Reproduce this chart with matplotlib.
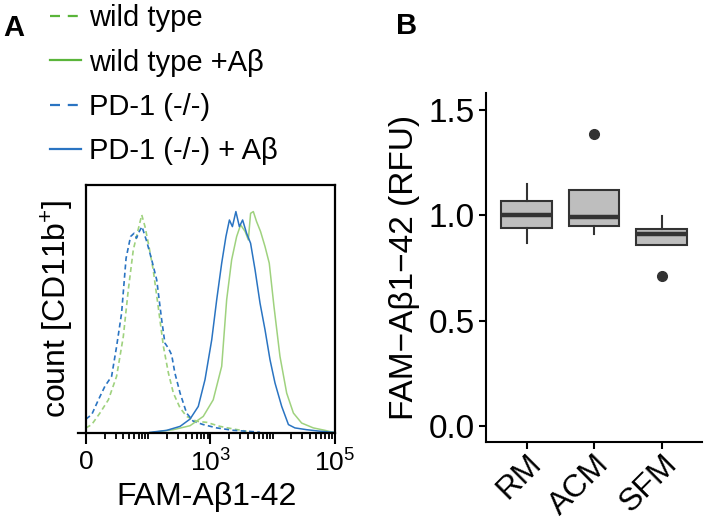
import matplotlib
matplotlib.use('Agg')
import matplotlib.pyplot as plt
import numpy as np
from matplotlib.lines import Line2D

plt.rcParams['font.family'] = ['Liberation Sans', 'DejaVu Sans']
plt.rcParams['mathtext.fontset'] = 'custom'
plt.rcParams['mathtext.rm'] = 'Liberation Sans'

# ---- panel A: flow histograms (x = display channel 0..1, y = normalised count)
WT_X = [0.000, 0.023, 0.056, 0.090, 0.123, 0.150, 0.170, 0.190, 0.206, 0.224,
        0.237, 0.253, 0.270, 0.290, 0.311, 0.331, 0.351, 0.378, 0.404, 0.444,
        0.485, 0.538, 0.592, 0.645]
WT_Y = [0.023, 0.038, 0.090, 0.150, 0.256, 0.436, 0.647, 0.827, 0.902, 0.985,
        0.932, 0.842, 0.737, 0.571, 0.391, 0.271, 0.180, 0.113, 0.075, 0.053,
        0.048, 0.030, 0.018, 0.008]

PD_X = [0.000, 0.023, 0.050, 0.076, 0.103, 0.123, 0.143, 0.161, 0.179, 0.193,
        0.203, 0.214, 0.225, 0.244, 0.264, 0.284, 0.304, 0.317, 0.331, 0.344,
        0.357, 0.378, 0.404, 0.431, 0.471, 0.525, 0.592, 0.672, 0.699]
PD_Y = [0.063, 0.083, 0.150, 0.211, 0.256, 0.391, 0.541, 0.789, 0.887, 0.902,
        0.880, 0.910, 0.932, 0.865, 0.782, 0.692, 0.511, 0.406, 0.383, 0.353,
        0.271, 0.180, 0.090, 0.053, 0.038, 0.023, 0.012, 0.006, 0.003]

WT_AB_X = [0.270, 0.351, 0.418, 0.471, 0.511, 0.545, 0.565, 0.585, 0.605, 0.621,
           0.639, 0.652, 0.661, 0.672, 0.685, 0.701, 0.719, 0.736, 0.755, 0.779,
           0.806, 0.833, 0.866, 0.913, 0.960, 0.993]
WT_AB_Y = [0.003, 0.015, 0.033, 0.075, 0.150, 0.301, 0.602, 0.782, 0.887, 0.940,
           0.910, 0.872, 0.992, 1.000, 0.955, 0.910, 0.842, 0.767, 0.571, 0.346,
           0.180, 0.090, 0.045, 0.023, 0.012, 0.003]

PD_AB_X = [0.257, 0.324, 0.378, 0.418, 0.451, 0.478, 0.505, 0.525, 0.545, 0.562,
           0.576, 0.588, 0.602, 0.616, 0.629, 0.645, 0.661, 0.679, 0.699, 0.719,
           0.739, 0.759, 0.786, 0.813, 0.839, 0.886, 0.940, 0.993]
PD_AB_Y = [0.003, 0.012, 0.030, 0.063, 0.120, 0.241, 0.421, 0.602, 0.767, 0.887,
           0.962, 0.932, 1.000, 0.932, 0.962, 0.902, 0.857, 0.737, 0.586, 0.466,
           0.331, 0.226, 0.120, 0.038, 0.023, 0.015, 0.008, 0.003]

LEGEND_LABELS = ['wild type', 'wild type +A\u03b2', 'PD-1 (-/-)', 'PD-1 (-/-) + A\u03b2']
XTICK_POS = [0.0, 0.5, 1.0]
XTICK_LABELS = ['0', r'$\mathregular{10^3}$', r'$\mathregular{10^5}$']

# ---- panel B: box plot summary stats
GROUPS = ['RM', 'ACM', 'SFM']
WHISK_LO = [0.87, 0.91, 0.86]
Q1 = [0.94, 0.951, 0.86]
MED = [1.0, 0.993, 0.913]
Q3 = [1.07, 1.12, 0.935]
WHISK_HI = [1.148, 1.12, 0.995]
OUTLIERS = [[], [1.386], [0.711]]

GREEN_LEG = '#5ab53a'
GREEN = '#9fd27e'
BLUE = '#2a74c2'

fig = plt.figure(figsize=(7.09, 5.22), dpi=100)

# panel A
ax = fig.add_axes([78 / 709, 89 / 522, 257 / 709, 248 / 522])
ax.plot(WT_X, WT_Y, color=GREEN, lw=1.2, dashes=(3, 2))
ax.plot(PD_X, PD_Y, color=BLUE, lw=1.2, dashes=(3, 2))
ax.plot(WT_AB_X, WT_AB_Y, color=GREEN, lw=1.1)
ax.plot(PD_AB_X, PD_AB_Y, color=BLUE, lw=1.1)
ax.set_xlim(-0.032, 1.0)
ax.set_ylim(0, 1.12)
for s in ax.spines.values():
    s.set_linewidth(1.6)
ax.spines['left'].set_position(('data', 0))
ax.spines['top'].set_bounds(0, 1.0)
ax.set_yticks([])
ax.set_xticks(XTICK_POS)
ax.set_xticklabels(XTICK_LABELS, fontsize=19)
minor = []
for d in range(4):
    for k in range(2, 10):
        minor.append(0.25 * (d + np.log10(k)))
ax.set_xticks(minor + [0.25, 0.75], minor=True)
ax.tick_params(axis='x', which='major', length=8, width=1.5, pad=4)
ax.tick_params(axis='x', which='minor', length=4, width=1.3)
ax.set_xlabel('FAM-A\u03b21-42', fontsize=23, labelpad=4)
ax.set_ylabel(r'count [CD11b$^{\mathregular{+}}$]', fontsize=23, labelpad=8)

handles = [
    Line2D([], [], color=GREEN_LEG, lw=1.6, dashes=(4.5, 3.5)),
    Line2D([], [], color=GREEN_LEG, lw=1.6),
    Line2D([], [], color=BLUE, lw=1.6, dashes=(4.5, 3.5)),
    Line2D([], [], color=BLUE, lw=1.6),
]
fig.legend(handles, LEGEND_LABELS, loc='upper left', bbox_to_anchor=(50 / 709, 0.992),
           frameon=False, fontsize=21, handlelength=1.05, handletextpad=0.3,
           labelspacing=0.56, borderpad=0, borderaxespad=0)

fig.text(0.004, 0.946, 'A', fontsize=21, fontweight='bold', va='center')

# panel B
bx = fig.add_axes([486 / 709, 80 / 522, 216 / 709, 349 / 522])
stats = []
for i, g in enumerate(GROUPS):
    stats.append(dict(label=g, whislo=WHISK_LO[i], q1=Q1[i], med=MED[i],
                      q3=Q3[i], whishi=WHISK_HI[i], fliers=OUTLIERS[i]))
bx.bxp(stats, positions=[1, 2, 3], widths=0.75, patch_artist=True, showcaps=False,
       boxprops=dict(facecolor='#bebebe', edgecolor='#333333', linewidth=1.5),
       medianprops=dict(color='#333333', linewidth=3.2),
       whiskerprops=dict(color='#333333', linewidth=1.5),
       flierprops=dict(marker='o', markerfacecolor='#333333', markeredgecolor='#333333',
                       markersize=7))
bx.set_xlim(0.4, 3.6)
bx.set_ylim(-0.075, 1.58)
bx.set_yticks([0.0, 0.5, 1.0, 1.5])
bx.set_yticklabels(['0.0', '0.5', '1.0', '1.5'], fontsize=24)
bx.set_xticks([1, 2, 3])
bx.set_xticklabels(GROUPS, fontsize=23, rotation=45, ha='right', rotation_mode='anchor')
bx.spines['top'].set_visible(False)
bx.spines['right'].set_visible(False)
for s in ('left', 'bottom'):
    bx.spines[s].set_linewidth(1.5)
bx.tick_params(length=5, width=1.5, pad=3)
bx.tick_params(axis='x', pad=0)
bx.set_ylabel('FAM\u2212A\u03b21\u221242 (RFU)', fontsize=24, labelpad=6)

fig.text(0.574, 0.950, 'B', fontsize=21, fontweight='bold', va='center', ha='center')

fig.savefig('out.png', dpi=100)
